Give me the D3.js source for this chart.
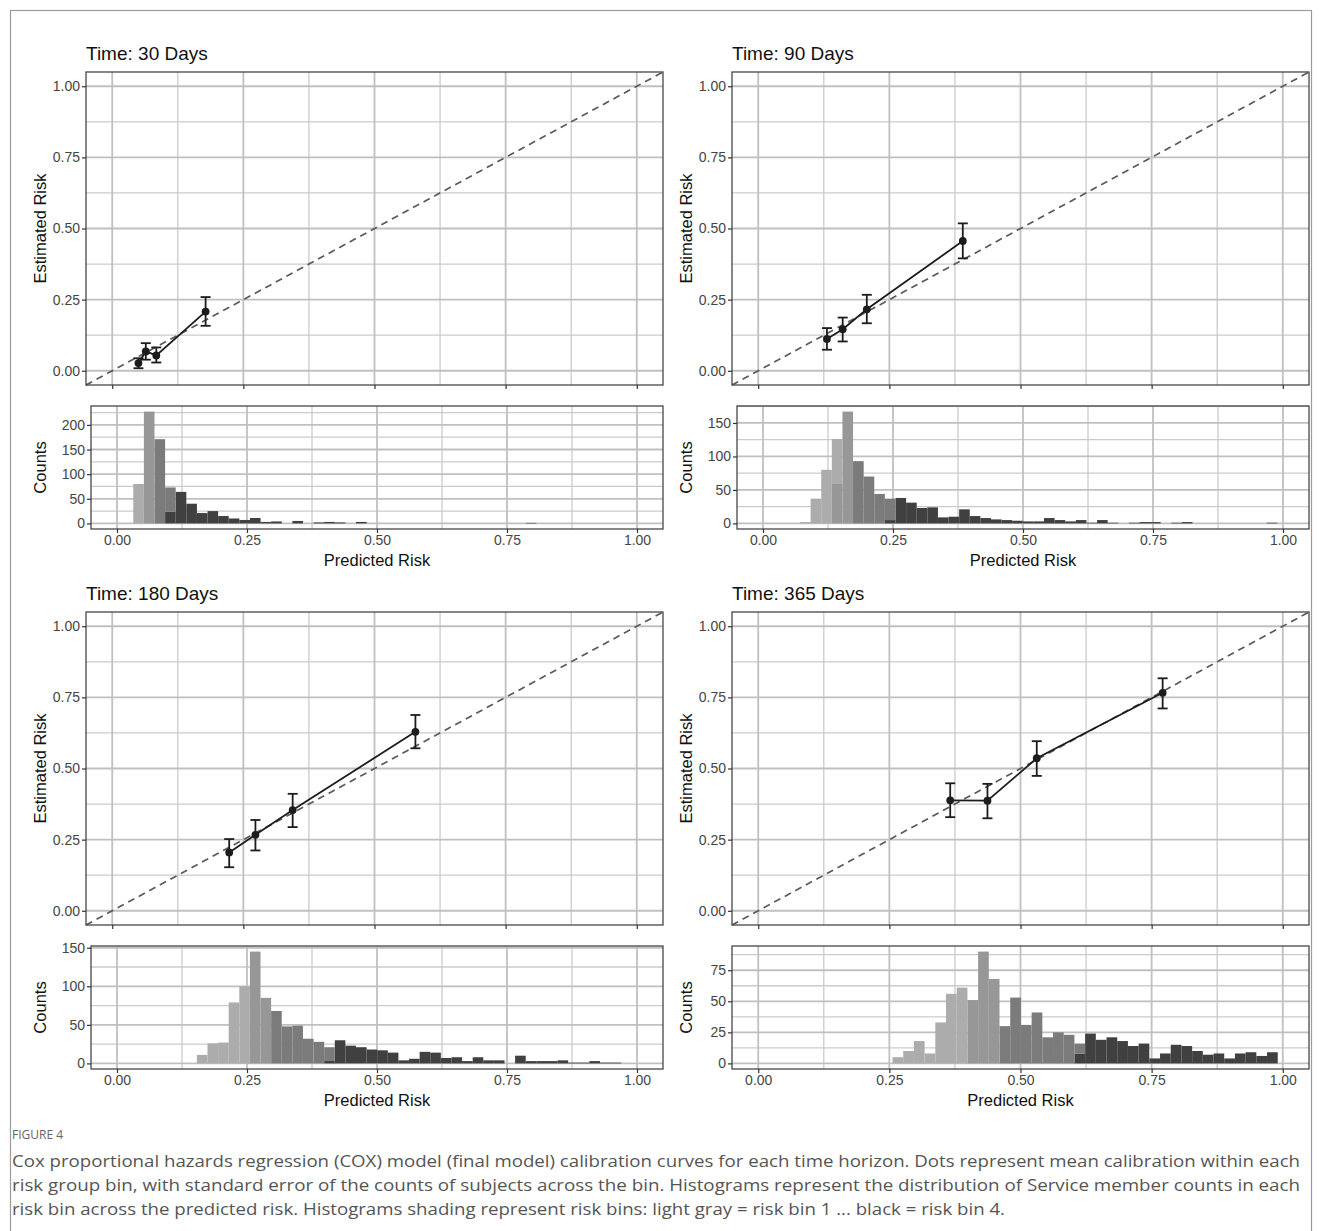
<!DOCTYPE html>
<html>
<head>
<meta charset="utf-8">
<script src="https://cdn.jsdelivr.net/npm/d3@7"></script>
<style>
  body { margin: 0; background: #fff; }
  svg { display: block; }
  text { font-family: "Liberation Sans", Arial, sans-serif; }
</style>
</head>
<body>
<svg id="chart" width="1319" height="1231"></svg>
<script>
// time horizons (days)
const horizons = ["30", "90", "180", "365"];

// calibration points: mean predicted risk per risk bin, estimated risk and +/- SE
const predRisk = [
    [0.050, 0.064, 0.084, 0.178],
    [0.131, 0.161, 0.207, 0.390],
    [0.223, 0.273, 0.344, 0.578],
    [0.366, 0.437, 0.531, 0.771]
];
const estRisk = [
    [0.027, 0.068, 0.054, 0.208],
    [0.112, 0.146, 0.216, 0.456],
    [0.205, 0.267, 0.354, 0.629],
    [0.388, 0.387, 0.536, 0.766]
];
const estLow = [
    [0.009, 0.039, 0.029, 0.158],
    [0.074, 0.103, 0.167, 0.395],
    [0.153, 0.212, 0.294, 0.571],
    [0.329, 0.325, 0.474, 0.711]
];
const estHigh = [
    [0.044, 0.097, 0.082, 0.259],
    [0.150, 0.187, 0.267, 0.518],
    [0.252, 0.319, 0.411, 0.688],
    [0.448, 0.446, 0.596, 0.817]
];

// histogram bins: left edge of first bin, common bin width
const histStart = [0.0313, 0.0712, 0.1536, 0.256];
const binWidth = 0.0204;

// counts per bin, split by risk bin [bin1, bin2, bin3, bin4]
const hist30 = [
    [80,0,0,0], [0,227,0,0], [0,0,171,0], [0,0,49,24], [0,0,0,64], [0,0,0,40],
    [0,0,0,21], [0,0,0,25], [0,0,0,15], [0,0,0,10], [0,0,0,7], [0,0,0,11],
    [0,0,0,3], [0,0,0,4], [0,0,0,0], [0,0,0,5], [0,0,0,0], [0,0,0,2],
    [0,0,0,3], [0,0,0,2], [0,0,0,0], [0,0,0,3], [0,0,0,0], [0,0,0,0],
    [0,0,0,0], [0,0,0,0], [0,0,0,0], [0,0,0,0], [0,0,0,0], [0,0,0,0],
    [0,0,0,0], [0,0,0,0], [0,0,0,0], [0,0,0,0], [0,0,0,0], [0,0,0,0],
    [0,0,0,0], [0,0,0,1]
];
const hist90 = [
    [2,0,0,0], [37,0,0,0], [80,0,0,0], [66,60,0,0], [0,167,0,0], [0,0,93,0],
    [0,0,70,0], [0,0,44,0], [0,0,32,5], [0,0,0,38], [0,0,0,31], [0,0,0,23],
    [0,0,0,24], [0,0,0,9], [0,0,0,10], [0,0,0,21], [0,0,0,11], [0,0,0,8],
    [0,0,0,6], [0,0,0,5], [0,0,0,4], [0,0,0,3], [0,0,0,3], [0,0,0,8],
    [0,0,0,5], [0,0,0,3], [0,0,0,5], [0,0,0,1], [0,0,0,5], [0,0,0,1],
    [0,0,0,0], [0,0,0,1], [0,0,0,2], [0,0,0,2], [0,0,0,0], [0,0,0,1],
    [0,0,0,2], [0,0,0,0], [0,0,0,0], [0,0,0,0], [0,0,0,0], [0,0,0,0],
    [0,0,0,0], [0,0,0,0], [0,0,0,1]
];
const hist180 = [
    [11,0,0,0], [26,0,0,0], [27,0,0,0], [79,0,0,0], [100,0,0,0], [0,145,0,0],
    [0,85,0,0], [0,0,68,0], [0,0,48,0], [0,0,49,0], [0,0,32,0], [0,0,28,0],
    [0,0,17,4], [0,0,0,30], [0,0,0,23], [0,0,0,21], [0,0,0,18], [0,0,0,17],
    [0,0,0,14], [0,0,0,4], [0,0,0,6], [0,0,0,15], [0,0,0,14], [0,0,0,7],
    [0,0,0,8], [0,0,0,3], [0,0,0,8], [0,0,0,4], [0,0,0,4], [0,0,0,0],
    [0,0,0,10], [0,0,0,3], [0,0,0,3], [0,0,0,3], [0,0,0,4], [0,0,0,1],
    [0,0,0,1], [0,0,0,3], [0,0,0,1], [0,0,0,1]
];
const hist365 = [
    [5,0,0,0], [10,0,0,0], [18,0,0,0], [8,0,0,0], [33,0,0,0], [56,0,0,0],
    [61,0,0,0], [0,51,0,0], [0,90,0,0], [0,68,0,0], [0,0,30,0], [0,0,53,0],
    [0,0,31,0], [0,0,41,0], [0,0,21,0], [0,0,25,0], [0,0,23,0], [0,0,8,8],
    [0,0,0,24], [0,0,0,19], [0,0,0,21], [0,0,0,18], [0,0,0,14], [0,0,0,16],
    [0,0,0,4], [0,0,0,8], [0,0,0,15], [0,0,0,14], [0,0,0,10], [0,0,0,7],
    [0,0,0,8], [0,0,0,4], [0,0,0,8], [0,0,0,9], [0,0,0,6], [0,0,0,9]
];
const histCounts = [hist30, hist90, hist180, hist365];

// axis breaks
const riskTicks = [0, 0.25, 0.5, 0.75, 1];
const countTicks = [[0, 50, 100, 150, 200], [0, 50, 100, 150], [0, 50, 100, 150], [0, 25, 50, 75]];

const binFill = ["#acacac", "#979797", "#7b7b7b", "#404040"];

const captionLines = [
    "Cox proportional hazards regression (COX) model (final model) calibration curves for each time horizon. Dots represent mean calibration within each",
    "risk group bin, with standard error of the counts of subjects across the bin. Histograms represent the distribution of Service member counts in each",
    "risk bin across the predicted risk. Histograms shading represent risk bins: light gray = risk bin 1 ... black = risk bin 4."
];

// layout (panel-relative; right column shifted by colOffset)
const colOffset = [0, 646, 0, 646];
const rowOffset = [0, 0, 540, 540];
const calBox = { left: 86, right: 663, top: 72, bottom: 385 };
const histBox = { top: 406, bottom: 529 };
const histLeft = [91, 91, 91, 86];

const gridMajor = "#c0c0c0";
const gridMinor = "#cbcbcb";
const borderCol = "#474747";
const tickTextCol = "#454545";

const svg = d3.select("#chart");

// outer frame of the figure
svg.append("rect")
    .attr("x", 10.5).attr("y", 10.5)
    .attr("width", 1301).attr("height", 1260)
    .attr("fill", "none")
    .attr("stroke", "#9c9c9c")
    .attr("stroke-width", 1.2);

const minorBreaks = (majors, domain) => {
    const step = majors[1] - majors[0];
    const out = [];
    for (let i = -1; i < majors.length; i++) {
        const m = majors[0] + (i + 0.5) * step;
        if (m > domain[0] && m < domain[1]) out.push(m);
    }
    return out;
};

const drawGrid = (g, x, y, xMajor, yMajor) => {
    const [x0, x1] = x.range();
    const [y0, y1] = y.range();
    const xMinor = minorBreaks(xMajor, x.domain());
    const yMinor = minorBreaks(yMajor, y.domain());

    g.selectAll(".vminor").data(xMinor).join("line")
        .attr("x1", d => x(d)).attr("x2", d => x(d))
        .attr("y1", y0).attr("y2", y1)
        .attr("stroke", gridMinor).attr("stroke-width", 1.3);
    g.selectAll(".hminor").data(yMinor).join("line")
        .attr("y1", d => y(d)).attr("y2", d => y(d))
        .attr("x1", x0).attr("x2", x1)
        .attr("stroke", gridMinor).attr("stroke-width", 1.3);
    g.selectAll(".vmajor").data(xMajor).join("line")
        .attr("x1", d => x(d)).attr("x2", d => x(d))
        .attr("y1", y0).attr("y2", y1)
        .attr("stroke", gridMajor).attr("stroke-width", 1.8);
    g.selectAll(".hmajor").data(yMajor).join("line")
        .attr("y1", d => y(d)).attr("y2", d => y(d))
        .attr("x1", x0).attr("x2", x1)
        .attr("stroke", gridMajor).attr("stroke-width", 1.8);
};

const styleAxis = (ax) => {
    ax.select(".domain").remove();
    ax.selectAll(".tick line").attr("stroke", "#333").attr("stroke-width", 1.2);
    ax.selectAll(".tick text")
        .attr("fill", tickTextCol)
        .style("font-size", "14px")
        .style("font-family", "'Liberation Sans', Arial, sans-serif");
};

const drawPanel = (i) => {
    const g = svg.append("g")
        .attr("transform", `translate(${colOffset[i]},${rowOffset[i]})`);

    // ---- calibration plot ----
    const x = d3.scaleLinear().domain([-0.05, 1.05]).range([calBox.left, calBox.right]);
    const y = d3.scaleLinear().domain([-0.05, 1.05]).range([calBox.bottom, calBox.top]);

    g.append("text")
        .attr("x", calBox.left).attr("y", 60)
        .style("font-size", "19px")
        .attr("fill", "#111")
        .text(`Time: ${horizons[i]} Days`);

    const cal = g.append("g");
    drawGrid(cal, x, y, riskTicks, riskTicks);

    cal.append("line")
        .attr("x1", x(-0.05)).attr("y1", y(-0.05))
        .attr("x2", x(1.05)).attr("y2", y(1.05))
        .attr("stroke", "#5a5a5a")
        .attr("stroke-width", 1.7)
        .attr("stroke-dasharray", "7,5");

    const pts = predRisk[i].map((p, j) => ({
        x: p, y: estRisk[i][j], lo: estLow[i][j], hi: estHigh[i][j]
    }));

    cal.append("path")
        .datum(pts)
        .attr("fill", "none")
        .attr("stroke", "#1c1c1c")
        .attr("stroke-width", 1.8)
        .attr("d", d3.line().x(d => x(d.x)).y(d => y(d.y)));

    const eb = cal.selectAll(".err").data(pts).join("g").attr("class", "err")
        .attr("stroke", "#1c1c1c").attr("stroke-width", 1.8);
    eb.append("line")
        .attr("x1", d => x(d.x)).attr("x2", d => x(d.x))
        .attr("y1", d => y(d.lo)).attr("y2", d => y(d.hi));
    eb.append("line")
        .attr("x1", d => x(d.x) - 5).attr("x2", d => x(d.x) + 5)
        .attr("y1", d => y(d.lo)).attr("y2", d => y(d.lo));
    eb.append("line")
        .attr("x1", d => x(d.x) - 5).attr("x2", d => x(d.x) + 5)
        .attr("y1", d => y(d.hi)).attr("y2", d => y(d.hi));

    cal.selectAll(".pt").data(pts).join("circle")
        .attr("cx", d => x(d.x)).attr("cy", d => y(d.y))
        .attr("r", 3.9)
        .attr("fill", "#1c1c1c");

    cal.append("rect")
        .attr("x", calBox.left).attr("y", calBox.top)
        .attr("width", calBox.right - calBox.left)
        .attr("height", calBox.bottom - calBox.top)
        .attr("fill", "none").attr("stroke", borderCol).attr("stroke-width", 1.3);

    const cy = g.append("g")
        .attr("transform", `translate(${calBox.left},0)`)
        .call(d3.axisLeft(y).tickValues(riskTicks).tickFormat(d3.format(".2f")).tickSize(4).tickPadding(2));
    styleAxis(cy);

    const cx = g.append("g")
        .attr("transform", `translate(0,${calBox.bottom})`)
        .call(d3.axisBottom(x).tickValues(riskTicks).tickFormat("").tickSize(4));
    styleAxis(cx);

    g.append("text")
        .attr("transform", `translate(46,${(calBox.top + calBox.bottom) / 2}) rotate(-90)`)
        .attr("text-anchor", "middle")
        .style("font-size", "16.5px")
        .attr("fill", "#111")
        .text("Estimated Risk");

    // ---- histogram ----
    const counts = histCounts[i];
    const rows = counts.map((c, k) => ({
        x0: histStart[i] + k * binWidth,
        c: c
    }));
    const maxCount = d3.max(counts, c => d3.sum(c));
    const hx = d3.scaleLinear().domain([-0.05, 1.05]).range([histLeft[i], calBox.right]);
    const hy = d3.scaleLinear()
        .domain([-0.05 * maxCount, 1.05 * maxCount])
        .range([histBox.bottom, histBox.top]);

    const hist = g.append("g");
    drawGrid(hist, hx, hy, riskTicks, countTicks[i]);

    const stacked = d3.stack()
        .keys([3, 2, 1, 0])
        .value((d, key) => d.c[key])(rows);

    stacked.forEach(layer => {
        hist.append("g")
            .attr("fill", binFill[layer.key])
            .selectAll("rect")
            .data(layer.filter(d => d[1] - d[0] > 0))
            .join("rect")
            .attr("x", d => hx(d.data.x0))
            .attr("width", d => hx(d.data.x0 + binWidth) - hx(d.data.x0))
            .attr("y", d => hy(d[1]))
            .attr("height", d => hy(d[0]) - hy(d[1]));
    });

    hist.append("rect")
        .attr("x", histLeft[i]).attr("y", histBox.top)
        .attr("width", calBox.right - histLeft[i])
        .attr("height", histBox.bottom - histBox.top)
        .attr("fill", "none").attr("stroke", borderCol).attr("stroke-width", 1.3);

    const hyAx = g.append("g")
        .attr("transform", `translate(${histLeft[i]},0)`)
        .call(d3.axisLeft(hy).tickValues(countTicks[i]).tickSize(4).tickPadding(2));
    styleAxis(hyAx);

    const hxAx = g.append("g")
        .attr("transform", `translate(0,${histBox.bottom})`)
        .call(d3.axisBottom(hx).tickValues(riskTicks).tickFormat(d3.format(".2f")).tickSize(4).tickPadding(2));
    styleAxis(hxAx);

    g.append("text")
        .attr("transform", `translate(46,${(histBox.top + histBox.bottom) / 2}) rotate(-90)`)
        .attr("text-anchor", "middle")
        .style("font-size", "16.5px")
        .attr("fill", "#111")
        .text("Counts");

    g.append("text")
        .attr("x", (histLeft[i] + calBox.right) / 2)
        .attr("y", 566)
        .attr("text-anchor", "middle")
        .style("font-size", "16.5px")
        .attr("fill", "#111")
        .text("Predicted Risk");
};

horizons.forEach((h, i) => drawPanel(i));

// caption
svg.append("text")
    .attr("x", 12).attr("y", 1139)
    .style("font-family", "'Open Sans', sans-serif")
    .style("font-size", "12px")
    .attr("fill", "#666")
    .text("FIGURE 4");

const captionWidths = [1288, 1288, 993];
svg.selectAll(".caption").data(captionLines).join("text")
    .attr("class", "caption")
    .attr("x", 12)
    .attr("y", (d, k) => 1167 + k * 24)
    .attr("textLength", (d, k) => captionWidths[k])
    .attr("lengthAdjust", "spacingAndGlyphs")
    .style("font-family", "'Open Sans', sans-serif")
    .style("font-size", "16px")
    .attr("fill", "#555")
    .text(d => d);
</script>
</body>
</html>
